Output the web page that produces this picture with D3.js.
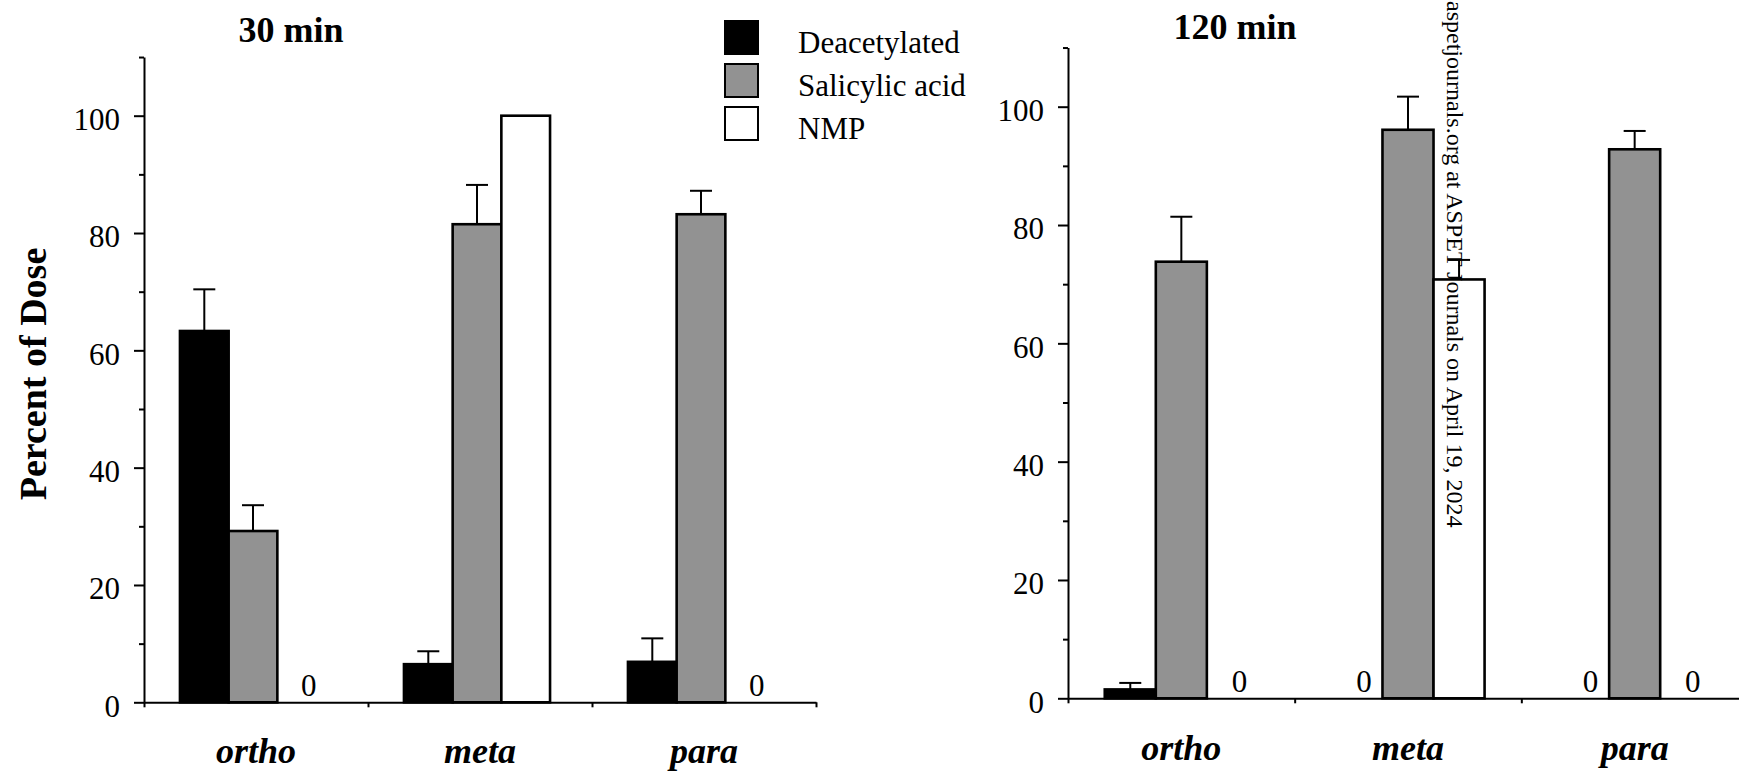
<!DOCTYPE html>
<html>
<head>
<meta charset="utf-8">
<script src="https://cdn.jsdelivr.net/npm/d3@7"></script>
<style>
body { margin: 0; background: #fff; }
text { font-family: "Liberation Serif", "Times New Roman", serif; fill: #000; }
</style>
</head>
<body>
<svg id="chart" width="1739" height="774"></svg>
<script>
const categories = ["ortho", "meta", "para"];
const seriesNames = ["Deacetylated", "Salicylic acid", "NMP"];
const seriesFill = ["#000000", "#929292", "#ffffff"];
const majorTicks = [0, 20, 40, 60, 80, 100];
const minorTicks = [10, 30, 50, 70, 90, 110];

// 30 min, percent of dose (mean, + error)
const deacetylated30 = [63.3, 6.5, 6.9];
const deacetylated30Err = [7.1, 2.2, 4.0];
const salicylic30 = [29.2, 81.5, 83.2];
const salicylic30Err = [4.4, 6.7, 4.0];
const nmp30 = [0, 100, 0];
const nmp30Err = [0, 0, 0];

// 120 min
const deacetylated120 = [1.5, 0, 0];
const deacetylated120Err = [1.1, 0, 0];
const salicylic120 = [73.8, 96.1, 92.8];
const salicylic120Err = [7.6, 5.6, 3.1];
const nmp120 = [0, 70.8, 0];
const nmp120Err = [0, 3.3, 0];

const panels = [
    {title: "30 min", values: [deacetylated30, salicylic30, nmp30], errors: [deacetylated30Err, salicylic30Err, nmp30Err],
     x: [144, 816], y0: 702.3, y100: 115.7, titleX: 291, titleY: 42, padOuter: 0.8, shift: -3, labelY: 763},
    {title: "120 min", values: [deacetylated120, salicylic120, nmp120], errors: [deacetylated120Err, salicylic120Err, nmp120Err],
     x: [1068, 1748], y0: 698.3, y100: 106.7, titleX: 1235, titleY: 39, padOuter: 0.72, shift: 0, labelY: 760}
];

const svg = d3.select("#chart");
svg.append("rect").attr("width", 1739).attr("height", 774).attr("fill", "#fff");

function styleAxis(sel) {
    sel.selectAll("path, line").attr("stroke", "#000").attr("stroke-width", 2);
    sel.selectAll("text").style("font-size", "31px");
}

function drawPanel(p) {
    const g = svg.append("g");
    const y = d3.scaleLinear()
        .domain([0, 110])
        .range([p.y0, p.y0 - 1.1 * (p.y0 - p.y100)]);
    const x0 = d3.scaleBand().domain(categories).range(p.x).padding(0);
    const x1 = d3.scaleBand().domain(seriesNames)
        .range([0, x0.bandwidth()])
        .paddingInner(0)
        .paddingOuter(p.padOuter);
    const xEdge = d3.scaleLinear().domain([0, categories.length]).range(p.x);

    // x axis with ticks between the groups
    g.append("g")
        .attr("transform", `translate(0,${p.y0})`)
        .call(d3.axisBottom(xEdge).tickValues(d3.range(categories.length + 1)).tickSize(5).tickSizeOuter(0).tickFormat(""))
        .call(styleAxis);

    // y axis
    g.append("g")
        .attr("transform", `translate(${p.x[0]},0)`)
        .call(d3.axisLeft(y).tickValues(majorTicks).tickSize(10).tickPadding(14).tickSizeOuter(0))
        .call(styleAxis)
        .selectAll("text").attr("dy", "0.45em");

    g.append("g")
        .attr("transform", `translate(${p.x[0]},0)`)
        .call(d3.axisLeft(y).tickValues(minorTicks).tickSize(5).tickSizeOuter(0).tickFormat(""))
        .call(styleAxis)
        .select(".domain").remove();

    const rows = categories.flatMap((c, ci) => seriesNames.map((s, si) => ({
        cat: c, ser: s, si: si, v: p.values[si][ci], e: p.errors[si][ci]
    })));
    const cx = d => x0(d.cat) + x1(d.ser) + x1.bandwidth() / 2 + p.shift;

    g.selectAll("rect.bar")
        .data(rows.filter(d => d.v > 0))
        .join("rect")
        .attr("class", "bar")
        .attr("x", d => x0(d.cat) + x1(d.ser) + p.shift)
        .attr("y", d => y(d.v))
        .attr("width", x1.bandwidth())
        .attr("height", d => y(0) - y(d.v))
        .attr("fill", d => seriesFill[d.si])
        .attr("stroke", "#000")
        .attr("stroke-width", 2.6);

    const errRows = rows.filter(d => d.e > 0);
    g.selectAll("line.err")
        .data(errRows)
        .join("line")
        .attr("class", "err")
        .attr("x1", cx).attr("x2", cx)
        .attr("y1", d => y(d.v)).attr("y2", d => y(d.v + d.e))
        .attr("stroke", "#000").attr("stroke-width", 2);
    g.selectAll("line.cap")
        .data(errRows)
        .join("line")
        .attr("class", "cap")
        .attr("x1", d => cx(d) - 11).attr("x2", d => cx(d) + 11)
        .attr("y1", d => y(d.v + d.e)).attr("y2", d => y(d.v + d.e))
        .attr("stroke", "#000").attr("stroke-width", 2);

    // zero values are written as "0"
    g.selectAll("text.zero")
        .data(rows.filter(d => d.v === 0))
        .join("text")
        .attr("class", "zero")
        .attr("x", d => cx(d) + 7)
        .attr("y", y(0) - 6)
        .attr("text-anchor", "middle")
        .style("font-size", "31px")
        .text("0");

    g.selectAll("text.cat")
        .data(categories)
        .join("text")
        .attr("class", "cat")
        .attr("x", d => x0(d) + x0.bandwidth() / 2)
        .attr("y", p.labelY)
        .attr("text-anchor", "middle")
        .style("font-size", "36px")
        .style("font-weight", "bold")
        .style("font-style", "italic")
        .text(d => d);

    g.append("text")
        .attr("x", p.titleX)
        .attr("y", p.titleY)
        .attr("text-anchor", "middle")
        .style("font-size", "36px")
        .style("font-weight", "bold")
        .text(p.title);
}

panels.forEach(drawPanel);

svg.append("text")
    .attr("transform", "translate(46,374) rotate(-90)")
    .attr("text-anchor", "middle")
    .style("font-size", "38px")
    .style("font-weight", "bold")
    .text("Percent of Dose");

// legend
const legend = svg.append("g").attr("transform", "translate(725,21)");
const legendRow = legend.selectAll("g")
    .data(seriesNames)
    .join("g")
    .attr("transform", (d, i) => `translate(0,${i * 43})`);
legendRow.append("rect")
    .attr("width", 33).attr("height", 33)
    .attr("fill", (d, i) => seriesFill[i])
    .attr("stroke", "#000").attr("stroke-width", 2);
legendRow.append("text")
    .attr("x", 73).attr("y", 32)
    .style("font-size", "31px")
    .text(d => d);

// download stamp running down the page
svg.append("text")
    .attr("transform", "translate(1447,1) rotate(90)")
    .style("font-size", "24px")
    .text("aspetjournals.org at ASPET Journals on April 19, 2024");
</script>
</body>
</html>
